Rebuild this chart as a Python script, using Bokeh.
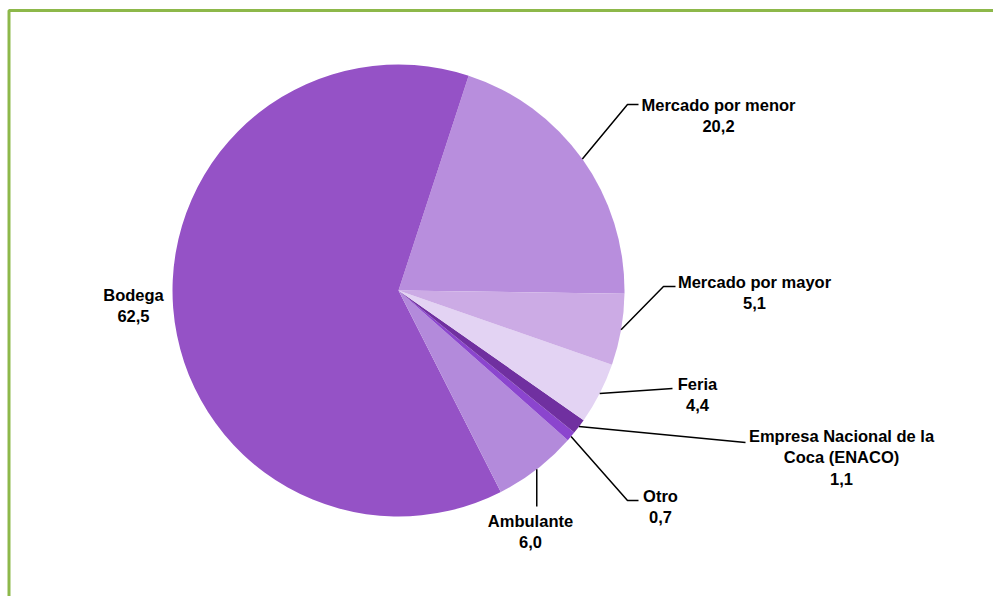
import math
from bokeh.plotting import figure
from bokeh.models import Range1d, ColumnDataSource
from bokeh.core.properties import value
from bokeh.embed import file_html
from bokeh.resources import INLINE

# data (counter-clockwise order starting at 3 o'clock)
categories = ["Mercado por menor", "Bodega", "Ambulante", "Otro",
              "Empresa Nacional de la\nCoca (ENACO)", "Feria", "Mercado por mayor"]
values = [20.2, 62.5, 6.0, 0.7, 1.1, 4.4, 5.1]
colors = ["#B88EDD", "#9552C6", "#B38ADB", "#8B45CE", "#7030A0", "#E3D3F3", "#CCABE5"]

W, H = 993, 596
p = figure(width=W, height=H, output_backend="svg", toolbar_location=None,
           x_range=Range1d(0, W), y_range=Range1d(H, 0), min_border=0,
           outline_line_color=None)
p.axis.visible = False
p.grid.visible = False
p.background_fill_color = "white"
p.border_fill_color = "white"

# green frame (extends beyond right / bottom edges)
p.quad(left=[8.5], right=[W + 20], top=[10], bottom=[H + 20], fill_color=None,
       line_color="#8DB84A", line_width=3)

cx, cy, r = 398, 290, 226
offset = -0.8
total = sum(values)
starts, ends, mids = [], [], []
acc = offset
for v in values:
    a0 = acc
    a1 = acc + v / total * 360.0
    starts.append(math.radians(a0))
    ends.append(math.radians(a1))
    mids.append(math.radians((a0 + a1) / 2))
    acc = a1

src = ColumnDataSource(dict(start=starts, end=ends, color=colors))
p.wedge(x=cx, y=cy, radius=r, start_angle="start", end_angle="end",
        fill_color="color", line_color=None, source=src)

# leader lines: from slice mid-point on the edge to label
bends = {
    "Mercado por menor": [(627, 104), (638, 104)],
    "Mercado por mayor": [(663, 286), (675, 286)],
    "Feria": [(672, 388)],
    "Empresa Nacional de la\nCoca (ENACO)": [(745, 442)],
    "Otro": [(627, 500), (638, 500)],
    "Ambulante": [None, 506],
}
xs_all, ys_all = [], []
for cat, m in zip(categories, mids):
    if cat not in bends:
        continue
    sx = cx + r * math.cos(m)
    sy = cy - r * math.sin(m)
    b = bends[cat]
    if cat == "Ambulante":
        xs_all.append([sx, sx])
        ys_all.append([sy, b[1]])
    else:
        xs_all.append([sx] + [q[0] for q in b])
        ys_all.append([sy] + [q[1] for q in b])
p.multi_line(xs=xs_all, ys=ys_all, line_color="black", line_width=1.5)

label_pos = {
    "Mercado por menor": (718, 115),
    "Bodega": (133, 305),
    "Ambulante": (530, 531),
    "Otro": (660, 506),
    "Empresa Nacional de la\nCoca (ENACO)": (841, 457),
    "Feria": (697, 394),
    "Mercado por mayor": (754, 292),
}
lx, ly, lt = [], [], []
for cat, v in zip(categories, values):
    x, y = label_pos[cat]
    lx.append(x)
    ly.append(y)
    lt.append(cat + "\n" + f"{v:.1f}".replace(".", ","))
p.text(x=lx, y=ly, text=lt, text_align="center", text_baseline="middle",
       text_font=value("Liberation Sans"), text_font_style="bold",
       text_font_size="16.5px", text_color="black", text_line_height=1.2)

open("out.html", "w").write(file_html(p, INLINE))
